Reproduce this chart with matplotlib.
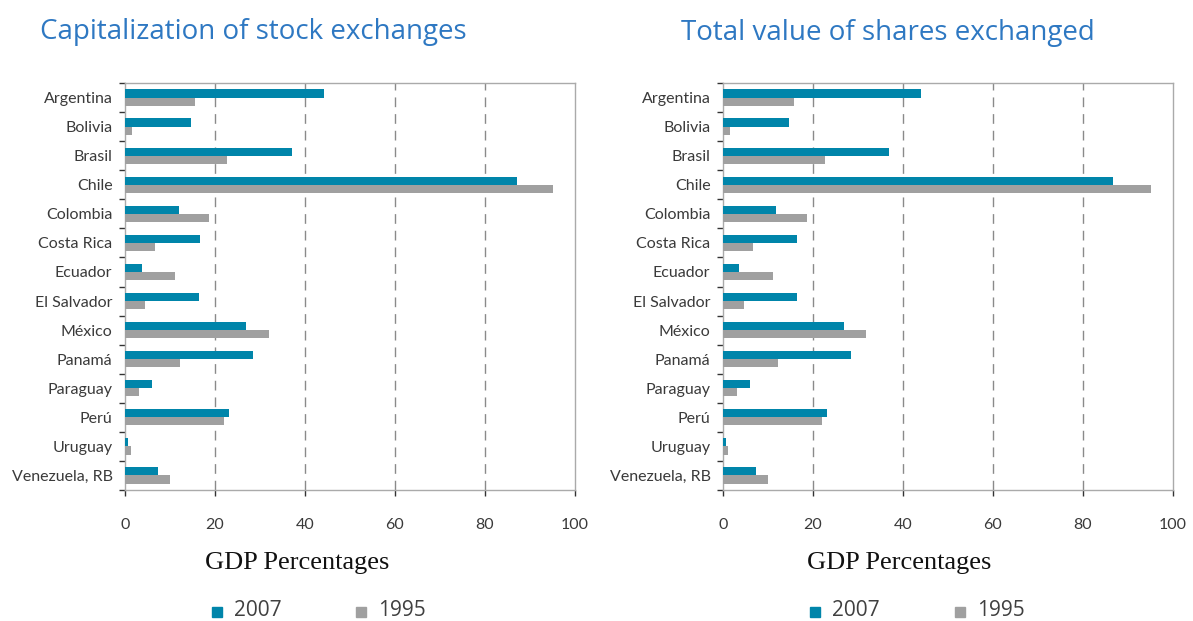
import matplotlib
matplotlib.use('Agg')
import matplotlib.pyplot as plt
from matplotlib.ticker import FixedLocator
import numpy as np

countries = ["Argentina", "Bolivia", "Brasil", "Chile", "Colombia", "Costa Rica",
             "Ecuador", "El Salvador", "México", "Panamá", "Paraguay", "Perú",
             "Uruguay", "Venezuela, RB"]

# Capitalization of stock exchanges (% of GDP)
cap_2007 = [44.2, 14.7, 37.2, 87.0, 11.9, 16.6, 3.7, 16.4, 26.8, 28.5, 6.0, 23.0, 0.7, 7.4]
cap_1995 = [15.6, 1.6, 22.6, 95.2, 18.6, 6.6, 11.2, 4.5, 31.9, 12.3, 3.2, 22.1, 1.3, 10.0]

# Total value of shares exchanged (% of GDP)
val_2007 = [43.9, 14.6, 36.9, 86.6, 11.8, 16.5, 3.5, 16.5, 26.9, 28.4, 5.9, 23.0, 0.7, 7.3]
val_1995 = [15.7, 1.5, 22.7, 95.1, 18.6, 6.7, 11.1, 4.6, 31.8, 12.2, 3.1, 22.0, 1.2, 9.9]

x_ticks = [0, 20, 40, 60, 80, 100]
titles = ["Capitalization of stock exchanges", "Total value of shares exchanged"]
series_labels = ["2007", "1995"]

TEAL = "#0085AA"
GRAY = "#A0A0A0"
TITLE_BLUE = "#2E78C2"
TEXT = "#3a3a3a"
LABEL_FONT = "Lato"


def draw_panel(ax, v2007, v1995):
    y = np.arange(len(countries))
    h = 0.28
    ax.barh(y - h / 2, v2007, height=h, color=TEAL, edgecolor="none", zorder=3)
    ax.barh(y + h / 2, v1995, height=h, color=GRAY, edgecolor="none", zorder=3)

    ax.set_xlim(0, 100)
    ax.set_ylim(len(countries) - 0.5, -0.5)

    ax.set_yticks(y)
    ax.set_yticklabels(countries, fontsize=11.5, color=TEXT, family=LABEL_FONT)
    ax.tick_params(axis="y", which="major", length=0, pad=9)
    ax.yaxis.set_minor_locator(FixedLocator(np.arange(len(countries) + 1) - 0.5))
    ax.tick_params(axis="y", which="minor", length=4, width=1, color="#333333")

    ax.set_xticks(x_ticks)
    ax.set_xticklabels([str(t) for t in x_ticks], fontsize=11.5, color=TEXT, family=LABEL_FONT)
    ax.tick_params(axis="x", length=4, width=1, color="#333333", pad=16)

    for t in x_ticks[1:-1]:
        ax.axvline(t, color="#8a8a8a", linestyle=(0, (7, 5)), linewidth=1.0, zorder=1)

    for side in ["left", "bottom", "top", "right"]:
        ax.spines[side].set_color("#aaaaaa")
        ax.spines[side].set_linewidth(1.0)


fig = plt.figure(figsize=(11.93, 6.21), dpi=100)
ax1 = fig.add_axes([125 / 1193, 1 - 490 / 621, 450 / 1193, 407 / 621])
ax2 = fig.add_axes([723 / 1193, 1 - 490 / 621, 450 / 1193, 407 / 621])

draw_panel(ax1, cap_2007, cap_1995)
draw_panel(ax2, val_2007, val_1995)

# titles
fig.text(40 / 1193, 1 - 32 / 621, titles[0], fontsize=20, color=TITLE_BLUE,
         family="Open Sans", va="center", ha="left")
fig.text(681 / 1193, 1 - 33 / 621, titles[1], fontsize=20, color=TITLE_BLUE,
         family="Open Sans", va="center", ha="left")

# x-axis captions and legends
for cx, sq1, sq2 in [(297, 212, 356), (899, 810, 955)]:
    fig.text(cx / 1193, 1 - 563 / 621, "GDP Percentages", fontsize=19,
             family="Liberation Serif", color="#111111", ha="center", va="center")
    for sx, col, lab in [(sq1, TEAL, series_labels[0]), (sq2, GRAY, series_labels[1])]:
        fig.patches.append(plt.Rectangle((sx / 1193, 1 - 617 / 621), 10 / 1193, 10 / 621,
                                         transform=fig.transFigure, color=col, figure=fig))
        fig.text((sx + 22) / 1193, 1 - 611 / 621, lab, fontsize=15, family="Open Sans",
                 color="#404040", ha="left", va="center")

fig.savefig("out.png", dpi=100)
